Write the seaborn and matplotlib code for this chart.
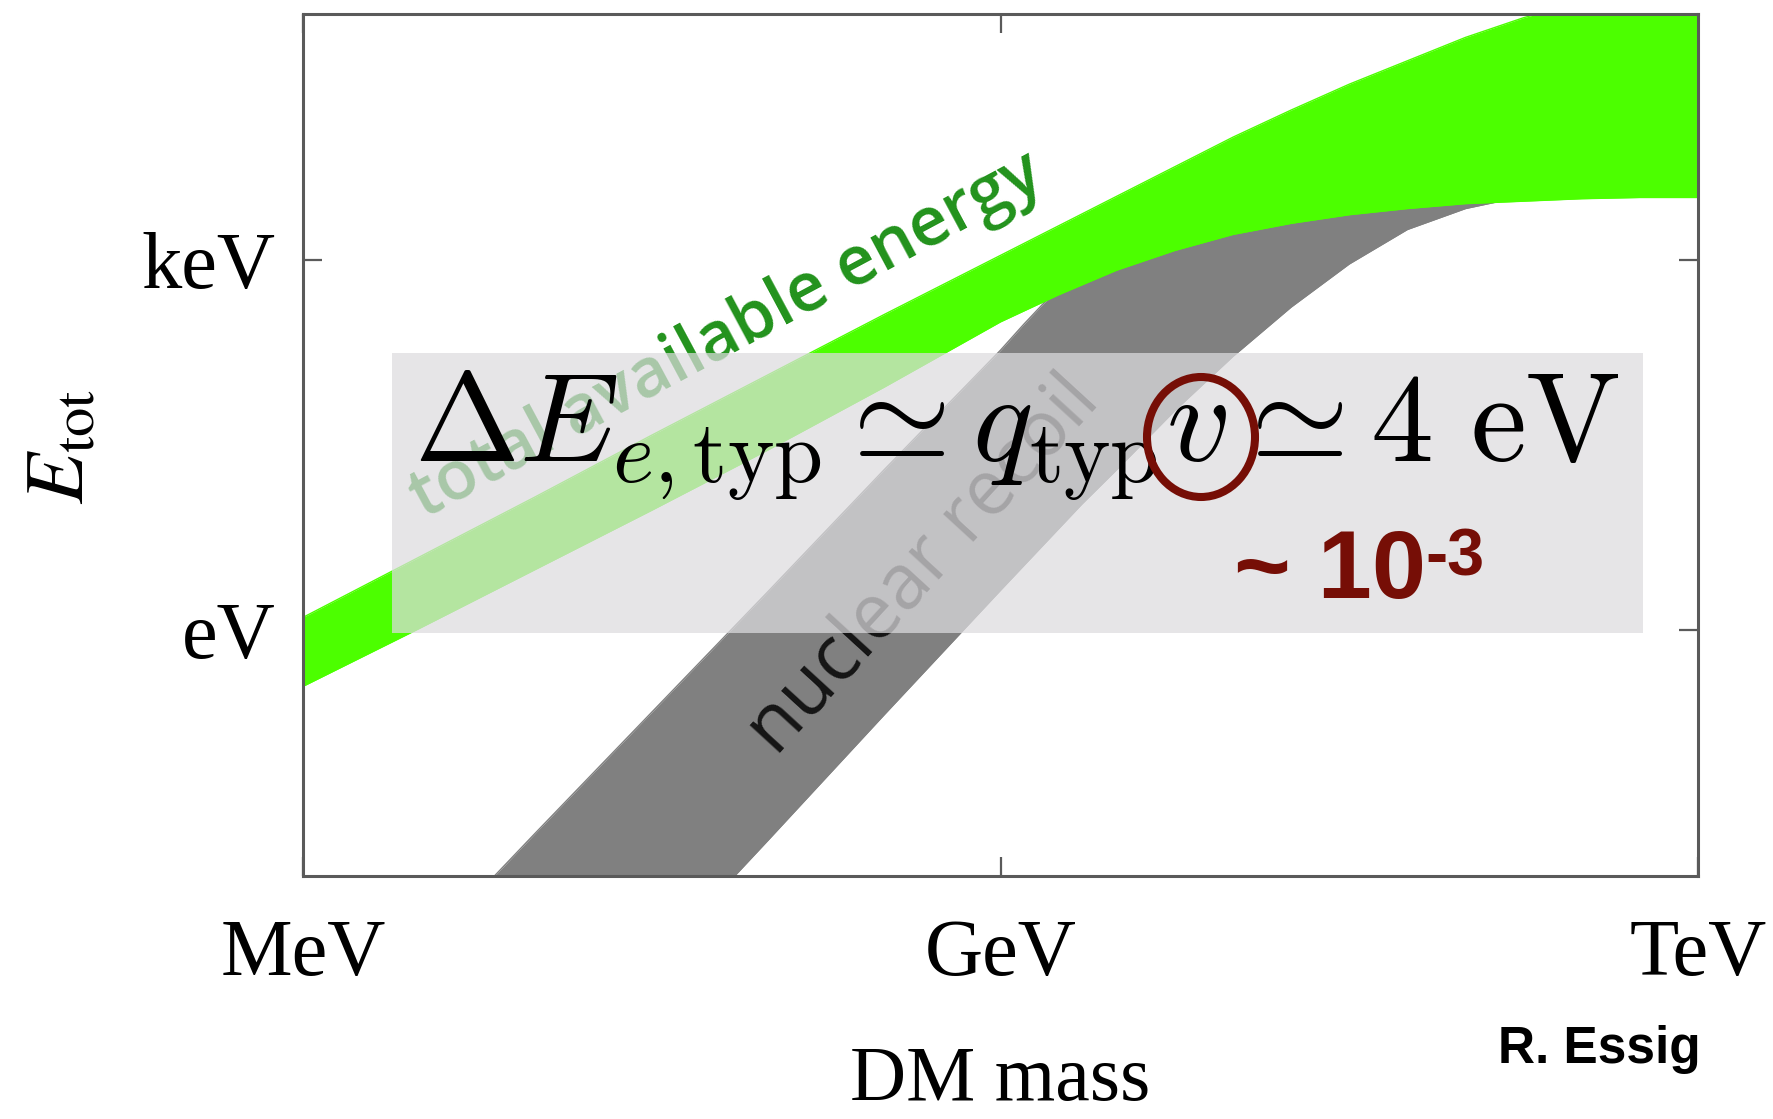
import numpy as np
import matplotlib
matplotlib.use("Agg")
import matplotlib.pyplot as plt
import seaborn as sns
from matplotlib.patches import Rectangle, Ellipse

# ---------------- data (log10 of DM mass in GeV, log10 of energy in eV) ----------------
green_mass_log = [-3.0, -2.5, -2.0, -1.5, -1.0, -0.5, 0.0, 0.25, 0.5, 0.75, 1.0,
                  1.25, 1.5, 1.75, 2.0, 2.25, 2.5, 2.75, 3.0]
green_top_log = [0.10, 0.59, 1.08, 1.58, 2.07, 2.56, 3.04, 3.28, 3.52, 3.76, 4.00,
                 4.22, 4.43, 4.62, 4.81, 4.97, 5.10, 5.20, 5.28]
green_bottom_log = [-0.46, 0.01, 0.49, 0.97, 1.46, 1.97, 2.50, 2.72, 2.92, 3.08, 3.21,
                    3.30, 3.37, 3.42, 3.46, 3.48, 3.50, 3.51, 3.51]

grey_mass_log = [-2.5, -2.0, -1.5, -1.0, -0.5, 0.0, 0.1, 0.2, 0.35, 0.5, 0.75, 1.0,
                 1.25, 1.5, 1.75, 2.0, 2.25, 2.5, 2.75, 3.0]
grey_top_log = [-2.64, -1.65, -0.67, 0.31, 1.30, 2.27, 2.48, 2.68, 2.86, 2.98, 3.13, 3.26,
                3.35, 3.42, 3.47, 3.51, 3.55, 3.58, 3.60, 3.60]
grey_bottom_log = [-4.70, -3.70, -2.72, -1.71, -0.69, 0.32, 0.52, 0.72, 1.02, 1.30, 1.78, 2.22,
                   2.62, 2.97, 3.25, 3.42, 3.52, 3.54, 3.55, 3.55]

x_tick_values = [1e-3, 1.0, 1e3]
x_tick_labels = ["MeV", "GeV", "TeV"]
y_tick_values = [1.0, 1e3]
y_tick_labels = ["eV", "keV"]

# ---------------- style ----------------
sns.set_theme(style="ticks")
plt.rcParams["font.family"] = ["Liberation Serif", "DejaVu Serif"]
plt.rcParams["mathtext.fontset"] = "cm"

W, H = 1773, 1119
fig = plt.figure(figsize=(W / 100, H / 100), dpi=100)
fig.patch.set_facecolor("white")


def fx(px):
    return px / W


def fy(py):
    return 1 - py / H


ax = fig.add_axes([fx(303), fy(876), fx(1698) - fx(303), fy(14) - fy(876)])
ax.set_facecolor("white")
ax.set_xscale("log")
ax.set_yscale("log")

GREEN = "#4CFF00"
GREY = "#808080"

gm = 10 ** np.array(green_mass_log)
gt = 10 ** np.array(green_top_log)
gb = 10 ** np.array(green_bottom_log)
rm = 10 ** np.array(grey_mass_log)
rt = 10 ** np.array(grey_top_log)
rb = 10 ** np.array(grey_bottom_log)

# nuclear recoil band (below)
ax.fill_between(rm, rb, rt, color=GREY, lw=0, zorder=1)
sns.lineplot(x=rm, y=rb, ax=ax, color=GREY, lw=1, zorder=1, estimator=None, sort=False)
sns.lineplot(x=rm, y=rt, ax=ax, color=GREY, lw=1, zorder=1, estimator=None, sort=False)
# total available energy band (on top)
ax.fill_between(gm, gb, gt, color=GREEN, lw=0, zorder=2)
sns.lineplot(x=gm, y=gt, ax=ax, color=GREEN, lw=1, zorder=2, estimator=None, sort=False)
sns.lineplot(x=gm, y=gb, ax=ax, color=GREEN, lw=1, zorder=2, estimator=None, sort=False)

ax.set_xlim(1e-3, 1e3)
ax.set_ylim(1e-2, 1e5)

ax.set_xticks(x_tick_values)
ax.set_xticklabels(x_tick_labels)
ax.set_yticks(y_tick_values)
ax.set_yticklabels(y_tick_labels)
ax.minorticks_off()
ax.tick_params(axis="both", which="major", direction="in", top=True, right=True,
               length=14, width=1.6, color="#5a5a5a", labelcolor="black",
               labelsize=58)
ax.tick_params(axis="x", pad=31)
ax.tick_params(axis="y", pad=20)
for sp in ax.spines.values():
    sp.set_color("#5a5a5a")
    sp.set_linewidth(2.2)
    sp.set_zorder(6)

ax.set_xlabel("DM mass", fontsize=56, color="black")
ax.xaxis.set_label_coords(0.5, (876 - 1100) / 862)
ax.xaxis.label.set_va("baseline")
ax.set_ylabel(r"$E_{\mathrm{tot}}$", fontsize=60, math_fontfamily="stix", color="black")
ax.yaxis.set_label_coords((64 - 303) / 1395, (876 - 447) / 862)
ax.yaxis.label.set_va("center")

# band labels (under the translucent box)
ax.text(fx(424), fy(519), "total available energy", transform=fig.transFigure,
        rotation=28.2, rotation_mode="anchor", ha="left", va="baseline",
        fontsize=49, family="Open Sans", weight=600, color="#22921C", zorder=2.5)
ax.text(fx(776), fy(757), "nuclear recoil", transform=fig.transFigure,
        rotation=47.5, rotation_mode="anchor", ha="left", va="baseline",
        fontsize=55, family="Open Sans", color="#151515", zorder=2.5)

# translucent box
ax.add_patch(Rectangle((fx(392), fy(633)), fx(1643) - fx(392), fy(353) - fy(633),
                       transform=fig.transFigure, facecolor="#DDDCDF", alpha=0.72,
                       lw=0, zorder=3, clip_on=False))

# formula
formula = r"$\Delta E_{e,\mathrm{typ}} \simeq q_{\mathrm{typ}} v \simeq 4\ \mathrm{eV}$"
t = ax.text(fx(414), fy(462), formula, transform=fig.transFigure, fontsize=92,
            ha="left", va="baseline", math_fontfamily="cm", color="black", zorder=5)
fig.canvas.draw()
bb = t.get_window_extent()
t.set_fontsize(92 * 1206 / bb.width)

# red circle around v
ax.add_patch(Ellipse((fx(1201), fy(437)), 108 / W, 120 / H, transform=fig.transFigure,
                     fill=False, edgecolor="#760E06", lw=5.8, zorder=6, clip_on=False))

# ~10^-3
ax.text(fx(1234), fy(598), "~ 10", transform=fig.transFigure, fontsize=70,
        family="Liberation Sans", weight="bold", color="#760E06",
        ha="left", va="baseline", zorder=6)
ax.text(fx(1425), fy(575), "-3", transform=fig.transFigure, fontsize=48,
        family="Liberation Sans", weight="bold", color="#760E06",
        ha="left", va="baseline", zorder=6)

# credit
fig.text(fx(1498), fy(1063), "R. Essig", fontsize=37, family="Liberation Sans",
         weight="bold", color="black", ha="left", va="baseline")

fig.savefig("out.png", dpi=100)
